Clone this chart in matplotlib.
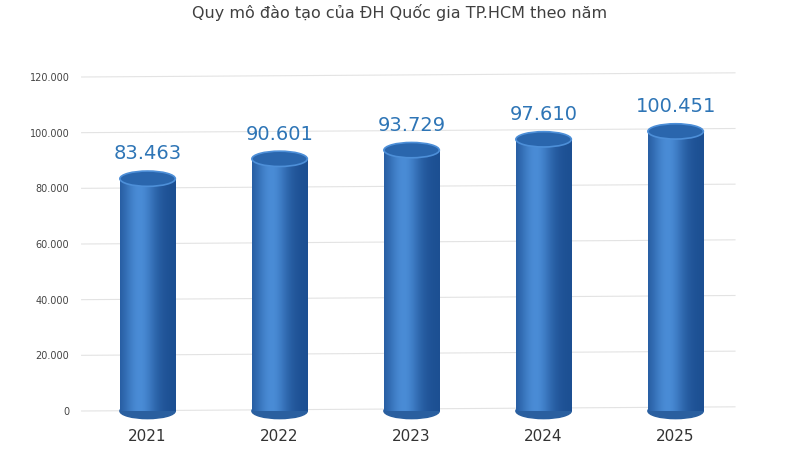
import matplotlib
matplotlib.use('Agg')
import matplotlib.pyplot as plt
import numpy as np
from matplotlib.patches import Ellipse, Rectangle

# data
years = ['2021', '2022', '2023', '2024', '2025']
students = [83463, 90601, 93729, 97610, 100451]
value_labels = ['83.463', '90.601', '93.729', '97.610', '100.451']
yticks = [0, 20000, 40000, 60000, 80000, 100000, 120000]
ytick_labels = ['0', '20.000', '40.000', '60.000', '80.000', '100.000', '120.000']

fig = plt.figure(figsize=(8, 4.49), dpi=100)
fig.patch.set_facecolor('white')
ax = fig.add_axes([75 / 800, 38 / 449, 660 / 800, 334 / 449])
ax.set_xlim(-0.55, 4.45)
ax.set_ylim(0, 120000)
for s in ax.spines.values():
    s.set_visible(False)
ax.set_xticks([])
ax.set_yticks(yticks)
ax.set_yticklabels(ytick_labels, fontsize=7, color='#444444')
ax.tick_params(axis='y', length=0, pad=4)
for t in yticks:
    ax.plot([-0.5, 4.45], [t, t + 1500], color='#e3e3e3', lw=0.8, zorder=0, clip_on=False)

w = 0.42
eh = 5500
grad = np.linspace(0, 1, 256)
profile = 0.55 + 0.45 * np.exp(-((grad - 0.35) / 0.3) ** 2)
base = np.array([0x1c, 0x4f, 0x92]) / 255
light = np.array([0x4a, 0x8c, 0xd6]) / 255
cols = np.array([base + (light - base) * (p - 0.55) / 0.45 for p in profile])
img = cols[np.newaxis, :, :]

for i, (v, lab) in enumerate(zip(students, value_labels)):
    x0 = i - w / 2
    rect = Rectangle((x0, 0), w, v, transform=ax.transData)
    im = ax.imshow(img, extent=[x0, x0 + w, 0, v], aspect='auto', zorder=2)
    im.set_clip_path(rect)
    ax.add_patch(Ellipse((i, 0), w, eh, color='#2a5f9f', zorder=1.9, clip_on=False))
    ax.add_patch(Ellipse((i, v), w, eh, facecolor='#2a66ad', edgecolor='#4d8fd8', lw=1.2, zorder=3))
    ax.text(i, v + 5500, lab, ha='center', va='bottom', fontsize=14, color='#2e75b6')
    ax.text(i, -9000, years[i], ha='center', va='center', fontsize=11, color='#333333')

ax.set_ylim(0, 120000)
fig.text(0.5, 0.972, 'Quy mô đào tạo của ĐH Quốc gia TP.HCM theo năm', ha='center', va='center',
         fontsize=11.5, color='#404040')
fig.savefig('out.png', dpi=100)
